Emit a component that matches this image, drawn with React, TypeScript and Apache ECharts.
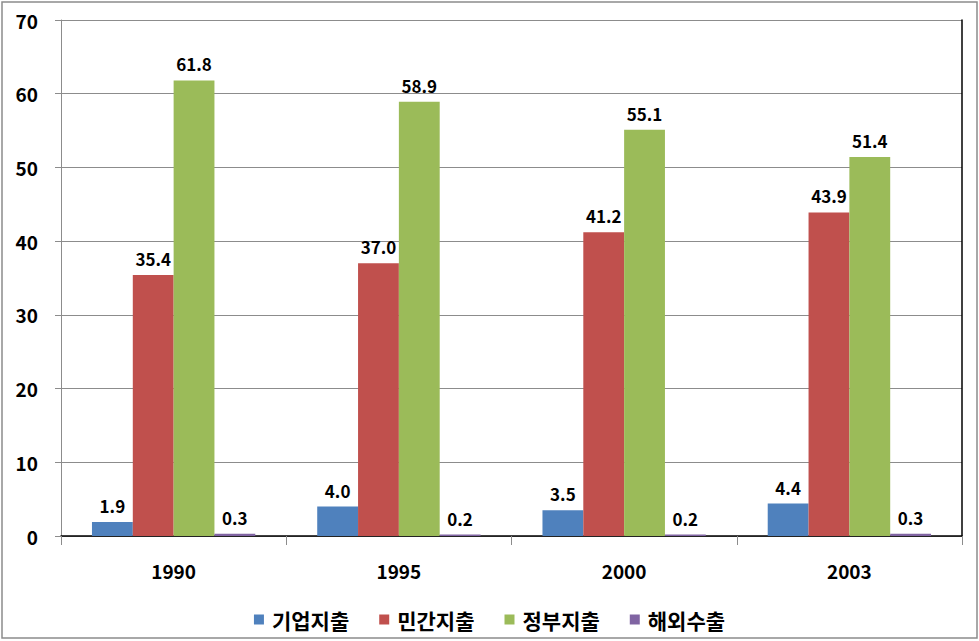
import React, { useEffect, useRef } from "react";
import * as echarts from "echarts";

const categories = ["1990", "1995", "2000", "2003"];
const seriesNames = ["기업지출", "민간지출", "정부지출", "해외수출"];
const corporate = [1.9, 4.0, 3.5, 4.4];
const privateSpend = [35.4, 37.0, 41.2, 43.9];
const government = [61.8, 58.9, 55.1, 51.4];
const overseas = [0.3, 0.2, 0.2, 0.3];
const colors = ["#4F81BD", "#C0504D", "#9BBB59", "#8064A2"];

const FONT = "'Noto Sans CJK KR', 'Noto Sans', sans-serif";

export default function App() {
  const ref = useRef<HTMLDivElement>(null);
  useEffect(() => {
    document.body.style.margin = "0";
    const chart = echarts.init(ref.current!, null, { renderer: "svg" });
    const dataSets = [corporate, privateSpend, government, overseas];
    chart.setOption({
      animation: false,
      backgroundColor: "#ffffff",
      textStyle: { fontFamily: FONT },
      grid: { left: 61, right: 17, top: 20, bottom: 105, containLabel: false },
      legend: {
        bottom: 6,
        left: "center",
        itemWidth: 10,
        itemHeight: 10,
        itemGap: 30,
        icon: "rect",
        textStyle: {
          fontSize: 21,
          fontWeight: "bold",
          color: "#000",
          fontFamily: FONT,
          padding: [0, 0, 0, 3],
        },
        data: seriesNames,
      },
      graphic: [
        {
          type: "rect",
          shape: { x: 2, y: 2, width: 975, height: 636 },
          style: { fill: "none", stroke: "#8c8c8c", lineWidth: 1.5 },
          silent: true,
        },
      ],
      xAxis: [
        {
          type: "category",
          data: categories,
          axisLine: { lineStyle: { color: "#8c8c8c", width: 1 } },
          axisTick: { show: true, length: 9, lineStyle: { color: "#8c8c8c" } },
          axisLabel: { fontSize: 19, fontWeight: "bold", color: "#000", margin: 25, fontFamily: FONT },
        },
        {
          type: "category",
          data: categories,
          position: "top",
          axisLine: { lineStyle: { color: "#000", width: 1.5 } },
          axisTick: { show: false },
          axisLabel: { show: false },
        },
      ],
      yAxis: [
        {
          type: "value",
          min: 0,
          max: 70,
          interval: 10,
          axisLine: { show: true, lineStyle: { color: "#8c8c8c", width: 1 } },
          axisTick: { show: true, length: 6, lineStyle: { color: "#8c8c8c" } },
          splitLine: { lineStyle: { color: "#8c8c8c", width: 1 } },
          axisLabel: { fontSize: 19, fontWeight: "bold", color: "#000", margin: 23, fontFamily: FONT },
        },
        {
          type: "value",
          min: 0,
          max: 70,
          interval: 10,
          position: "right",
          axisLine: { show: true, lineStyle: { color: "#000", width: 1.5 } },
          axisTick: { show: false },
          axisLabel: { show: false },
          splitLine: { show: false },
        },
      ],
      series: seriesNames.map((name, i) => ({
        name,
        type: "bar",
        data: dataSets[i],
        barGap: "0%",
        barCategoryGap: "27.5%",
        itemStyle: { color: colors[i] },
        label: {
          show: true,
          position: "top",
          distance: 8,
          formatter: (p: any) => Number(p.value).toFixed(1),
          fontSize: 17,
          fontWeight: "bold",
          color: "#000",
          fontFamily: FONT,
        },
      })),
    });
    return () => chart.dispose();
  }, []);
  return <div ref={ref} style={{ width: 979, height: 641 }} />;
}
